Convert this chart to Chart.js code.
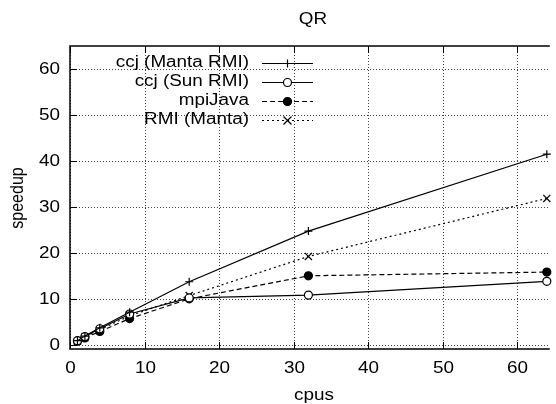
<!DOCTYPE html>
<html>
<head>
<meta charset="utf-8">
<script src="https://cdn.jsdelivr.net/npm/chart.js@4/dist/chart.umd.min.js"></script>
<style>
  html, body { margin: 0; padding: 0; background: #fff; }
  #wrap { width: 556px; height: 404px; }
</style>
</head>
<body>
<div id="wrap"><canvas id="qr-chart"></canvas></div>
<script>
// data
const cpus = [1, 2, 4, 8, 16, 32, 64];
const ccjManta = [1.0, 2.0, 3.8, 7.2, 13.8, 24.8, 41.5];
const ccjSun = [1.0, 1.9, 3.6, 6.8, 10.3, 10.9, 13.9];
const mpiJava = [0.9, 1.6, 3.0, 5.8, 10.1, 15.1, 15.9];
const rmiManta = [0.9, 1.8, 3.4, 6.4, 10.8, 19.3, 31.9];

const seriesNames = ['ccj (Manta RMI)', 'ccj (Sun RMI)', 'mpiJava', 'RMI (Manta)'];
const xTicks = [0, 10, 20, 30, 40, 50, 60];
const yTicks = [0, 10, 20, 30, 40, 50, 60];

const FONT = '16px "Liberation Sans", Arial, sans-serif';
const STRETCH = 1.18; // text in the picture is a bit wider than normal

function drawText(ctx, text, x, y, align, baseline, rotate) {
    ctx.save();
    ctx.translate(x, y);
    ctx.scale(STRETCH, 1);
    if (rotate) ctx.rotate(-Math.PI / 2);
    ctx.font = FONT;
    ctx.fillStyle = '#000';
    ctx.textAlign = align;
    ctx.textBaseline = baseline;
    ctx.fillText(text, 0, 0);
    ctx.restore();
}

function drawMarker(ctx, style, x, y, r, fill) {
    ctx.save();
    ctx.lineWidth = 1.2;
    ctx.strokeStyle = '#000';
    ctx.setLineDash([]);
    ctx.beginPath();
    if (style === 'cross') {
        ctx.moveTo(x - r, y); ctx.lineTo(x + r, y);
        ctx.moveTo(x, y - r); ctx.lineTo(x, y + r);
        ctx.stroke();
    } else if (style === 'crossRot') {
        const d = r * 0.8;
        ctx.moveTo(x - d, y - d); ctx.lineTo(x + d, y + d);
        ctx.moveTo(x + d, y - d); ctx.lineTo(x - d, y + d);
        ctx.stroke();
    } else {
        ctx.arc(x, y, r, 0, Math.PI * 2);
        ctx.fillStyle = fill;
        ctx.fill();
        ctx.stroke();
    }
    ctx.restore();
}

// grid behind the lines
const gridPlugin = {
    id: 'gnuGrid',
    beforeDatasetsDraw(chart) {
        const { ctx, chartArea: a, scales: { x, y } } = chart;
        ctx.save();
        ctx.strokeStyle = 'rgba(0,0,0,0.75)';
        ctx.lineWidth = 1;
        ctx.setLineDash([1, 2]);
        xTicks.forEach(v => {
            const px = Math.round(x.getPixelForValue(v)) + 0.5;
            ctx.beginPath(); ctx.moveTo(px, a.top); ctx.lineTo(px, a.bottom); ctx.stroke();
        });
        yTicks.forEach(v => {
            const py = Math.round(y.getPixelForValue(v)) + 0.5;
            ctx.beginPath(); ctx.moveTo(a.left, py); ctx.lineTo(a.right, py); ctx.stroke();
        });
        ctx.restore();
    }
};

// border, inward ticks, labels, title, legend
const framePlugin = {
    id: 'gnuFrame',
    afterDraw(chart) {
        const { ctx, chartArea: a, scales: { x, y } } = chart;
        const tick = 7;
        ctx.save();
        ctx.strokeStyle = '#000';
        ctx.lineWidth = 1.5;
        ctx.setLineDash([]);
        ctx.beginPath();
        ctx.moveTo(a.right, a.top); ctx.lineTo(a.left, a.top);
        ctx.lineTo(a.left, a.bottom); ctx.lineTo(a.right, a.bottom);
        ctx.stroke();
        ctx.lineWidth = 1;
        xTicks.forEach(v => {
            const px = Math.round(x.getPixelForValue(v)) + 0.5;
            ctx.beginPath();
            ctx.moveTo(px, a.bottom); ctx.lineTo(px, a.bottom - tick);
            ctx.moveTo(px, a.top); ctx.lineTo(px, a.top + tick);
            ctx.stroke();
            drawText(ctx, String(v), px, 369, 'center', 'middle');
        });
        yTicks.forEach(v => {
            const py = Math.round(y.getPixelForValue(v)) + 0.5;
            ctx.beginPath();
            ctx.moveTo(a.left, py); ctx.lineTo(a.left + tick, py);
            ctx.stroke();
            drawText(ctx, String(v), 60, py, 'right', 'middle');
        });
        ctx.restore();

        drawText(ctx, 'QR', 313, 20, 'center', 'middle');
        drawText(ctx, 'cpus', 314, 400, 'center', 'alphabetic');
        drawText(ctx, 'speedup', 18, 198, 'center', 'middle', true);

        // legend, text right aligned then a line sample with its marker
        chart.data.datasets.forEach((ds, i) => {
            const ly = 63 + i * 19;
            drawText(ctx, ds.label, 249, ly, 'right', 'middle');
            ctx.save();
            ctx.strokeStyle = ds.borderColor;
            ctx.lineWidth = ds.borderWidth;
            ctx.setLineDash(ds.borderDash || []);
            ctx.beginPath(); ctx.moveTo(262, ly + 0.5); ctx.lineTo(313, ly + 0.5); ctx.stroke();
            ctx.restore();
            drawMarker(ctx, ds.pointStyle, 287.5, ly + 0.5, ds.pointRadius, ds.pointBackgroundColor);
        });
    }
};

function series(label, values, dash, style, radius, fill) {
    return {
        label: label,
        data: cpus.map((c, i) => ({ x: c, y: values[i] })),
        borderColor: '#000',
        borderWidth: 1.2,
        borderDash: dash,
        pointStyle: style,
        pointRadius: radius,
        pointHoverRadius: radius,
        pointBorderColor: '#000',
        pointBorderWidth: 1.2,
        pointBackgroundColor: fill,
        fill: false,
        tension: 0,
        clip: false
    };
}

new Chart(document.getElementById('qr-chart').getContext('2d'), {
    type: 'line',
    data: {
        datasets: [
            series(seriesNames[0], ccjManta, [], 'cross', 4, '#000'),
            series(seriesNames[1], ccjSun, [], 'circle', 4, '#fff'),
            series(seriesNames[2], mpiJava, [5, 3], 'circle', 4, '#000'),
            series(seriesNames[3], rmiManta, [2, 3], 'crossRot', 5, '#000')
        ]
    },
    options: {
        responsive: true,
        maintainAspectRatio: false,
        animation: false,
        layout: { padding: { left: 70, top: 46, right: 0, bottom: 55 } },
        plugins: { legend: { display: false }, title: { display: false }, tooltip: { enabled: false } },
        scales: {
            x: { type: 'linear', min: 0, max: 64.4, display: false },
            y: { type: 'linear', min: -0.8, max: 65, display: false }
        }
    },
    plugins: [gridPlugin, framePlugin]
});
</script>
</body>
</html>
